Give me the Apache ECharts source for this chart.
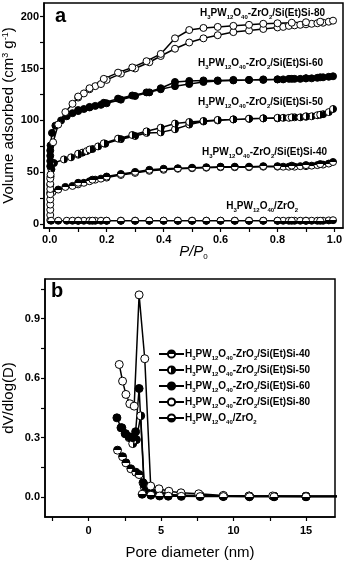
<!DOCTYPE html>
<html>
<head>
<meta charset="utf-8">
<script src="https://cdn.jsdelivr.net/npm/echarts@6/dist/echarts.min.js"></script>
<style>
  html, body { margin: 0; padding: 0; background: #fff; }
  #chart { width: 345px; height: 562px; }
</style>
</head>
<body>
<div id="chart"></div>
<script>
// (a) N2 isotherms: [P/P0, volume] adsorption then desorption branch
const si80Ads = [[0.002,4],[0.002,9],[0.002,14],[0.002,19],[0.002,24],[0.002,29],[0.002,34],[0.002,39],[0.002,44],[0.003,48],
  [0.012,79],[0.03,96],[0.055,108],[0.08,116],[0.1,122],[0.12,126],[0.14,130],[0.16,133],[0.18,135],[0.2,139],
  [0.25,145],[0.3,150],[0.35,156],[0.39,162],[0.44,169],[0.49,175],[0.54,179],[0.59,182],[0.645,185],[0.7,186.5],
  [0.75,188],[0.8,189.5],[0.82,190],[0.84,191],[0.86,191.5],[0.88,192],[0.9,192.5],[0.92,193],[0.94,193.5],[0.96,194],[0.98,195],[0.995,196]];
const si80Des = [[0.95,195],[0.9,194.5],[0.85,194],[0.8,193.5],[0.75,193],[0.7,192],[0.645,191],[0.59,190],[0.54,189],[0.49,187],
  [0.44,179],[0.39,164],[0.34,157],[0.29,151],[0.24,146],[0.19,140],[0.14,131],[0.1,123]];

const si60Ads = [[0.002,56],[0.002,61],[0.002,66],[0.002,71],[0.003,76],[0.008,88],[0.02,95],[0.04,100],[0.06,104],[0.08,107],
  [0.1,109],[0.12,111],[0.14,112.5],[0.16,114],[0.18,115],[0.2,116.5],[0.25,120],[0.3,123.5],[0.35,127],[0.39,130],
  [0.44,133],[0.49,135],[0.54,137],[0.59,138],[0.645,138.5],[0.7,139],[0.75,139],[0.8,139.5],[0.82,139.5],[0.84,140],
  [0.86,140],[0.88,140],[0.9,140.5],[0.92,140.5],[0.94,141],[0.96,141.5],[0.98,142],[0.995,142.5]];
const si60Des = [[0.95,141.5],[0.9,140.5],[0.85,140],[0.8,139.5],[0.75,139.5],[0.7,139],[0.645,139],[0.59,138.5],[0.54,138.5],
  [0.49,138],[0.44,137],[0.39,131],[0.34,127],[0.29,124],[0.24,121],[0.19,117],[0.14,113],[0.1,110]];

const si50Ads = [[0.002,30],[0.002,38],[0.003,46],[0.006,53],[0.015,59],[0.05,62.5],[0.075,64.5],[0.1,67],[0.115,69],[0.13,70.5],
  [0.15,72.5],[0.17,75],[0.195,77.5],[0.25,82],[0.3,85],[0.34,88],[0.39,88.5],[0.44,91.5],[0.49,96],[0.54,99],
  [0.59,100],[0.645,101],[0.7,101.5],[0.75,102],[0.8,102],[0.82,102.5],[0.84,102.5],[0.86,103],[0.88,103],[0.9,103.5],
  [0.92,104],[0.94,105],[0.96,106],[0.98,108],[0.995,111]];
const si50Des = [[0.95,105.5],[0.9,104],[0.85,103],[0.8,102.5],[0.75,102],[0.7,101.7],[0.645,101],[0.59,100.5],[0.54,99.5],
  [0.49,98.5],[0.44,97],[0.39,93],[0.34,89.5],[0.29,86],[0.24,82.5],[0.19,78],[0.14,72],[0.1,68]];

const si40Ads = [[0.003,31],[0.01,31],[0.03,33.5],[0.055,36],[0.08,37],[0.1,38.5],[0.12,40],[0.14,41.5],[0.16,43],[0.18,44],
  [0.2,45],[0.25,47.5],[0.3,49.5],[0.35,51.5],[0.4,52.5],[0.45,53.5],[0.5,54],[0.55,54.5],[0.6,55],[0.65,55],
  [0.7,55],[0.75,55.5],[0.8,55.5],[0.82,55.5],[0.84,55.5],[0.86,55.5],[0.88,56],[0.9,56],[0.92,56.5],[0.94,57],
  [0.96,57.5],[0.98,58.5],[0.995,60]];
const si40Des = [[0.95,58],[0.9,57],[0.85,56.5],[0.8,56],[0.75,56],[0.7,55.5],[0.65,55.5],[0.6,55.5],[0.55,55],[0.5,54.5],
  [0.45,54],[0.4,53.5],[0.35,52.5],[0.3,50.5],[0.25,48.5],[0.2,46],[0.15,43],[0.1,40]];

const zrAds = [[0.005,3.5],[0.03,3.5],[0.06,3.5],[0.08,3.5],[0.1,3.5],[0.12,3.5],[0.14,3.5],[0.16,3.5],[0.18,3.5],[0.2,3.5],
  [0.25,3.5],[0.3,3.5],[0.35,3.5],[0.4,3.5],[0.45,3.5],[0.5,3.5],[0.55,3.5],[0.6,3.5],[0.65,3.5],[0.7,3.5],
  [0.75,3.5],[0.8,3.5],[0.82,3.5],[0.84,3.5],[0.86,3.5],[0.88,3.5],[0.9,3.5],[0.92,3.5],[0.94,3.5],[0.96,3.5],[0.98,3.8],[0.995,4]];
const zrDes = [[0.95,3.5],[0.9,3.5],[0.85,3.5],[0.8,3.5],[0.75,3.5],[0.7,3.5],[0.65,3.5],[0.6,3.5],[0.55,3.5],[0.5,3.5],
  [0.45,3.5],[0.4,3.5],[0.35,3.5],[0.3,3.5],[0.25,3.5],[0.2,3.5],[0.15,3.5],[0.1,3.5]];

// (b) pore size distribution: [diameter nm, dV/dlog(D)]
const psd40 = [[2.0,0.237],[2.35,0.204],[2.58,0.173],[2.92,0.143],[3.26,0.126],[3.49,0.114],[3.76,0.073],[3.95,0.047],
  [4.3,0.025],[4.9,0.015],[5.5,0.012],[6.4,0.01],[7.7,0.008],[9.3,0.006],[11.1,0.005],[12.8,0.004],[15,0.004],[18.5,0.004]];
const psd50 = [[2.3,0.35],[2.55,0.32],[2.8,0.3],[3.05,0.27],[3.3,0.29],[3.6,0.41],[3.85,0.05],[4.4,0.02],[4.9,0.012],
  [5.5,0.01],[6.4,0.008],[7.7,0.006],[9.3,0.005],[11.1,0.004],[12.8,0.004],[15,0.003],[18.5,0.003]];
const psd60 = [[1.96,0.40],[2.24,0.35],[2.53,0.32],[2.8,0.305],[3.05,0.30],[3.25,0.33],[3.49,0.548],[3.83,0.064],[3.95,0.03],
  [4.4,0.02],[4.9,0.015],[5.5,0.012],[6.4,0.01],[7.7,0.008],[9.3,0.006],[11.1,0.005],[12.8,0.004],[15,0.004],[18.5,0.004]];
const psd80 = [[2.12,0.669],[2.35,0.585],[2.58,0.518],[2.85,0.471],[3.15,0.459],[3.49,1.02],[3.88,0.698],[4.29,0.056],
  [4.86,0.042],[5.54,0.03],[6.38,0.022],[7.6,0.017],[9.3,0.009],[11.06,0.006],[12.7,0.006],[15.0,0.005],[18.5,0.005]];
const psdZr = [[3.7,0.015],[4.3,0.01],[4.9,0.006],[5.5,0.005],[6.4,0.004],[7.7,0.003],[9.3,0.003],[11.1,0.002],
  [12.8,0.002],[15,0.002],[18.5,0.002]];

const isoXLabels = [0, 0.2, 0.4, 0.6, 0.8, 1.0];
const isoXTicks = [0, 0.1, 0.2, 0.3, 0.4, 0.5, 0.6, 0.7, 0.8, 0.9, 1.0];
const isoYLabels = [0, 50, 100, 150, 200];
const isoYTicks = [0, 25, 50, 75, 100, 125, 150, 175, 200];
const psdXLabels = [0, 5, 10, 15];
const psdXTicks = [-2.5, 0, 2.5, 5, 7.5, 10, 12.5, 15];
const psdYLabels = [0, 0.3, 0.6, 0.9];
const psdYTicks = [0, 0.15, 0.3, 0.45, 0.6, 0.75, 0.9, 1.05];

const chart = echarts.init(document.getElementById('chart'));
const FONT = 'Liberation Sans, Arial, sans-serif';

function half(x2, y2, first, second) {
  return new echarts.graphic.LinearGradient(0, 0, x2, y2, [
    {offset: 0, color: first}, {offset: 0.5, color: first},
    {offset: 0.5, color: second}, {offset: 1, color: second}
  ]);
}
const fill40 = half(0, 1, '#000', '#fff');   // top black
const fill50 = half(1, 0, '#fff', '#000');   // right black
const fill60 = '#000';
const fill80 = '#fff';
const fillZr = half(0, 1, '#fff', '#000');   // bottom black

// rich text for the formula with subscripts
const rich = {
  n: {fontSize: 10, fontWeight: 'bold', fontFamily: FONT, color: '#000', lineHeight: 14, verticalAlign: 'middle'},
  s: {fontSize: 6, fontWeight: 'bold', fontFamily: FONT, color: '#000', lineHeight: 14, verticalAlign: 'bottom'}
};
function formula(tail) {
  const base = '{n|H}{s|3}{n|PW}{s|12}{n|O}{s|40}';
  if (tail === 'ZrO2') return base + '{n|/ZrO}{s|2}';
  return base + '{n|-ZrO}{s|2}{n|/Si(Et)Si-' + tail + '}';
}

function lineSeries(name, data, fill, axis, size) {
  return {
    name: name,
    type: 'line',
    xAxisIndex: axis,
    yAxisIndex: axis,
    data: data,
    symbol: 'circle',
    symbolSize: size,
    showAllSymbol: true,
    itemStyle: {color: fill, borderColor: '#000', borderWidth: 1},
    lineStyle: {color: '#000', width: 1.5},
    emphasis: {disabled: true}
  };
}

const labelText = (x, y, tail, align) => ({
  type: 'text', x: x, y: y,
  style: {text: formula(tail), rich: rich, align: align || 'right', verticalAlign: 'middle'}
});

const tickLabel = {fontSize: 11, fontWeight: 'bold', fontFamily: FONT, color: '#000'};
const axLine = {show: true, onZero: false, lineStyle: {color: '#000', width: 1.5}};

const option = {
  animation: false,
  backgroundColor: '#fff',
  grid: [
    {left: 44, right: 2, top: 3, height: 225, outerBoundsMode: 'none', containLabel: false,
      show: true, borderColor: '#000', borderWidth: 1.5},
    {left: 45, right: 10, top: 279, height: 238, outerBoundsMode: 'none', containLabel: false,
      show: true, borderColor: '#000', borderWidth: 1.5}
  ],
  xAxis: [
    {
      type: 'value', gridIndex: 0, min: -0.02, max: 1.03,
      axisLine: axLine, splitLine: {show: false},
      axisTick: {show: true, inside: false, length: 4, customValues: isoXTicks, lineStyle: {width: 1.2}},
      axisLabel: Object.assign({customValues: isoXLabels, formatter: v => v.toFixed(1), margin: 6}, tickLabel),
      name: '{i|P/P}{s|0}', nameLocation: 'middle', nameGap: 15, nameMoveOverlap: false,
      nameTextStyle: {rich: {
        i: {fontSize: 15, fontStyle: 'italic', fontFamily: FONT, color: '#000', lineHeight: 18, verticalAlign: 'middle'},
        s: {fontSize: 8, fontFamily: FONT, color: '#000', lineHeight: 18, verticalAlign: 'bottom'}
      }}
    },
    {
      type: 'value', gridIndex: 1, min: -3, max: 17,
      axisLine: axLine, splitLine: {show: false},
      axisTick: {show: true, inside: false, length: 4, customValues: psdXTicks, lineStyle: {width: 1.2}},
      axisLabel: Object.assign({customValues: psdXLabels, margin: 8}, tickLabel),
      name: 'Pore diameter (nm)', nameLocation: 'middle', nameGap: 28, nameMoveOverlap: false,
      nameTextStyle: {fontSize: 15, fontFamily: FONT, color: '#000'}
    }
  ],
  yAxis: [
    {
      type: 'value', gridIndex: 0, min: -3.5, max: 213,
      axisLine: axLine, splitLine: {show: false},
      axisTick: {show: true, inside: false, length: 4, customValues: isoYTicks, lineStyle: {width: 1.2}},
      axisLabel: Object.assign({customValues: isoYLabels, margin: 5}, tickLabel),
      name: '{t|Volume adsorbed (cm}{u|3}{t| g}{u|-1}{t|)}', nameLocation: 'middle', nameGap: 27,
      nameMoveOverlap: false,
      nameTextStyle: {rich: {
        t: {fontSize: 15, fontFamily: FONT, color: '#000', lineHeight: 16, verticalAlign: 'middle'},
        u: {fontSize: 9, fontFamily: FONT, color: '#000', lineHeight: 16, verticalAlign: 'top'}
      }}
    },
    {
      type: 'value', gridIndex: 1, min: -0.1, max: 1.1,
      axisLine: axLine, splitLine: {show: false},
      axisTick: {show: true, inside: false, length: 4, customValues: psdYTicks, lineStyle: {width: 1.2}},
      axisLabel: Object.assign({customValues: psdYLabels, formatter: v => v.toFixed(1), margin: 5}, tickLabel),
      name: 'dV/dlog(D)', nameLocation: 'middle', nameGap: 29,
      nameMoveOverlap: false,
      nameTextStyle: {fontSize: 15, fontFamily: FONT, color: '#000'}
    }
  ],
  legend: {
    data: ['Si-40', 'Si-50', 'Si-60', 'Si-80', 'ZrO2'],
    orient: 'vertical', left: 153, top: 344,
    itemWidth: 25, itemHeight: 9, itemGap: 4,
    formatter: name => formula(name === 'ZrO2' ? 'ZrO2' : name.slice(3)),
    textStyle: {rich: rich, padding: [0, 0, 0, -4]},
    selectedMode: false
  },
  graphic: [
    {type: 'text', x: 55, y: 16, style: {text: 'a', font: 'bold 20px ' + FONT, fill: '#000', verticalAlign: 'middle'}},
    {type: 'text', x: 51, y: 291, style: {text: 'b', font: 'bold 20px ' + FONT, fill: '#000', verticalAlign: 'middle'}},
    labelText(325, 13, '80'),
    labelText(323, 63, '60'),
    labelText(323, 102, '50'),
    labelText(327, 152, '40'),
    labelText(298, 206, 'ZrO2')
  ],
  series: [
    lineSeries('a-40', si40Ads.concat(si40Des), fill40, 0, 7),
    lineSeries('a-50', si50Ads.concat(si50Des), fill50, 0, 7),
    lineSeries('a-60', si60Ads.concat(si60Des), fill60, 0, 7),
    lineSeries('a-80', si80Ads.concat(si80Des), fill80, 0, 7),
    lineSeries('a-Zr', zrAds.concat(zrDes), fillZr, 0, 7),
    lineSeries('Si-40', psd40, fill40, 1, 8),
    lineSeries('Si-50', psd50, fill50, 1, 8),
    lineSeries('Si-60', psd60, fill60, 1, 8),
    lineSeries('Si-80', psd80, fill80, 1, 8),
    lineSeries('ZrO2', psdZr, fillZr, 1, 8)
  ]
};

chart.setOption(option);
</script>
</body>
</html>
